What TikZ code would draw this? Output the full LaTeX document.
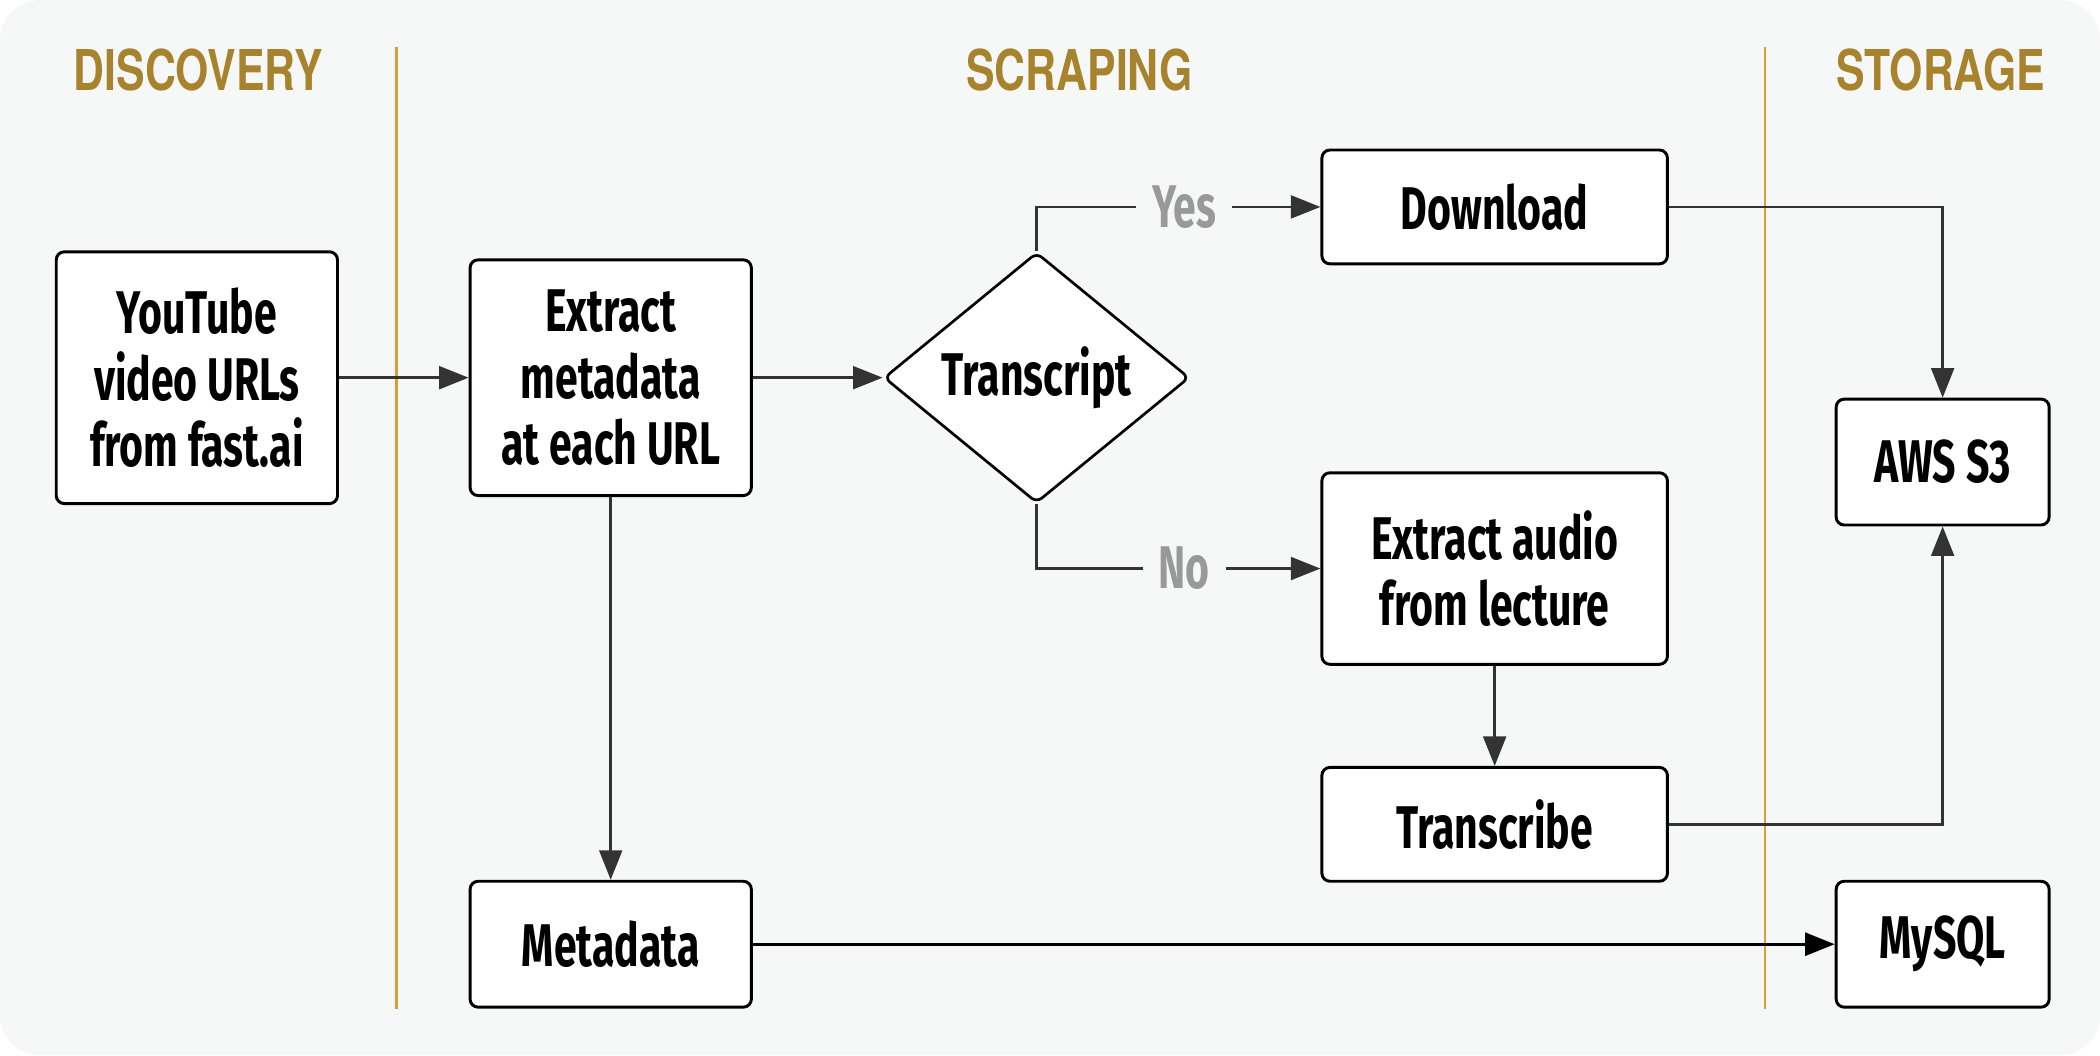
\documentclass[tikz,border=0pt]{standalone}
\usepackage{fontspec}
\newfontfamily\boxfont{Fira Sans}[FakeStretch=0.68]
\newfontfamily\headfont{TeX Gyre Heros}[FakeStretch=0.76]
\usetikzlibrary{shapes.geometric,arrows.meta}
\definecolor{bgc}{HTML}{F6F8F7}
\definecolor{headc}{HTML}{A8832E}
\definecolor{divc}{HTML}{D4A136}
\definecolor{linec}{HTML}{333333}
\definecolor{labc}{HTML}{999999}
\begin{document}
\begin{tikzpicture}[x=1pt,y=-1pt,
  box/.style={draw=black, line width=2.2pt, fill=white, rounded corners=6pt, align=center,
    font=\boxfont\bfseries\fontsize{45}{49.5}\selectfont, inner sep=0pt},
  head/.style={text=headc, font=\headfont\bfseries\fontsize{42}{42}\selectfont, inner sep=0pt},
  conn/.style={draw=linec, line width=2pt, -{Triangle[length=22pt,width=17pt]}},
  lab/.style={fill=bgc, text=labc, font=\boxfont\bfseries\fontsize{45}{49.5}\selectfont, inner xsep=12pt, inner ysep=0pt},
  divider/.style={draw=divc, line width=1.8pt}]
\useasboundingbox (0,0) rectangle (1568,788);
\fill[white] (0,0) rectangle (1568,788);
\fill[bgc, rounded corners=30pt] (0,0) rectangle (1568,788);
% lane dividers
\draw[divider] (296,35) -- (296,753);
\draw[divider] (1318,35) -- (1318,753);
% headers
\node[head] (hdisc) at (148,52) {DISCOVERY};
\node[head] (hscrap) at (806,52) {SCRAPING};
\node[head] (hstor) at (1449,52) {STORAGE};
% nodes
\node[box, minimum width=210pt, minimum height=188pt] (yt) at (147,282) {YouTube\\video URLs\\from fast.ai};
\node[box, minimum width=210pt, minimum height=176pt] (em) at (456,282) {Extract\\metadata\\at each URL};
\node[diamond, draw=black, line width=2pt, fill=white, minimum width=228pt, minimum height=187pt,
  inner sep=0pt, aspect=1.22, rounded corners=5pt,
  font=\boxfont\bfseries\fontsize{45}{49.5}\selectfont] (tr) at (774,282) {Transcript};
\node[box, minimum width=258pt, minimum height=85pt] (dl) at (1116,154.5) {Download};
\node[box, minimum width=258pt, minimum height=143pt] (ea) at (1116,424.5) {Extract audio\\from lecture};
\node[box, minimum width=258pt, minimum height=85pt] (tc) at (1116,615.5) {Transcribe};
\node[box, minimum width=210pt, minimum height=94pt] (md) at (456,705) {Metadata};
\node[box, minimum width=159pt, minimum height=94pt] (aws) at (1450.5,345) {AWS S3};
\node[box, minimum width=159pt, minimum height=94pt] (my) at (1450.5,705) {MySQL};
% connectors
\draw[conn] (yt.east) -- (em.west);
\draw[conn] (em.east) -- (tr.west);
\draw[conn] (tr.north) |- node[lab, pos=0.76] {Yes} (dl.west);
\draw[conn] (tr.south) |- node[lab, pos=0.76] {No} (ea.west);
\draw[conn] (dl.east) -| (aws.north);
\draw[conn] (ea.south) -- (tc.north);
\draw[conn] (tc.east) -| (aws.south);
\draw[conn] (em.south) -- (md.north);
\draw[conn, draw=black, line width=2.4pt] (md.east) -- (my.west);
\end{tikzpicture}
\end{document}
